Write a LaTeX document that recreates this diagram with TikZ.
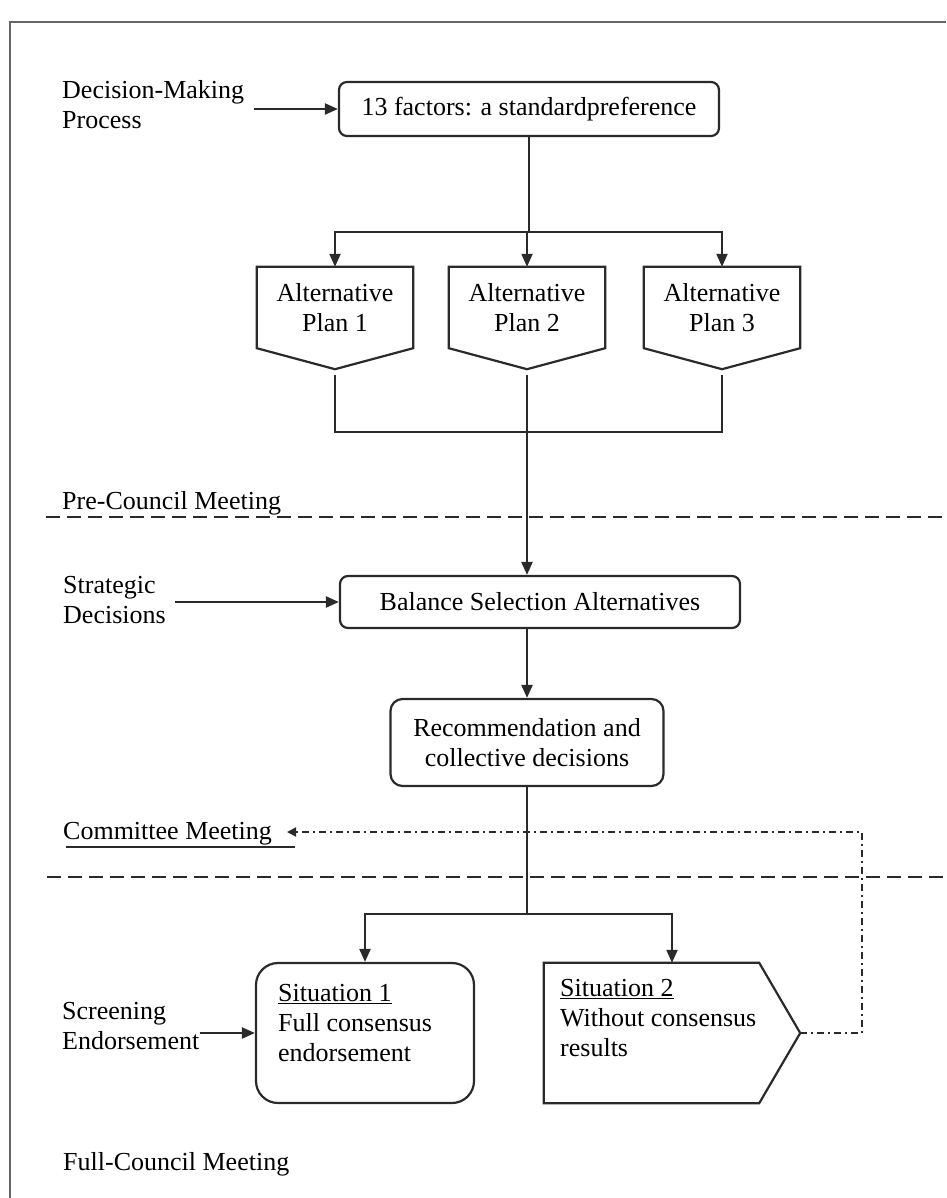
\documentclass[tikz,border=0pt]{standalone}
\usepackage{fontspec}
\setmainfont{Liberation Serif}
\usetikzlibrary{arrows.meta}
\definecolor{ln}{HTML}{2A2A2A}
\begin{document}
\begin{tikzpicture}[x=1pt,y=-1pt,
  every node/.style={font=\fontsize{26}{30}\selectfont, text=black},
  lbl/.style={inner sep=0pt, align=left},
  rbox/.style={draw=ln, line width=2.2pt, rounded corners=8pt, inner sep=0pt, align=center},
  planbox/.style={inner sep=0pt, minimum width=156pt, minimum height=81pt, align=center},
  shapeline/.style={draw=ln, line width=2.2pt, line join=miter},
  conn/.style={draw=ln, line width=2.2pt},
  arr/.style={conn, -{Triangle[length=13pt,width=11pt]}},
  dsh/.style={draw=ln, line width=2.5pt, dash pattern=on 14pt off 7pt},
  dd/.style={draw=ln, line width=1.8pt, dash pattern=on 7pt off 4pt on 2pt off 4pt},
  ddarr/.style={dd, -{Triangle[length=9pt,width=9pt]}},
  frame/.style={draw=gray!80!black, line width=2pt}
]
\useasboundingbox (0,0) rectangle (946,1198);

% frame
\coordinate (fa) at (10,1198);
\coordinate (fb) at (10,22);
\coordinate (fc) at (946,22);
\draw[frame] (fa) -- (fb) -- (fc);

% top part
\node[lbl, anchor=west] (dm) at (62,105) {Decision-Making\\Process};
\node[rbox, minimum width=380pt, minimum height=54pt] (f13) at (529,109) {13 factors: a standardpreference};
\draw[arr] ([xshift=10pt]dm.east |- f13.west) -- (f13.west);

\node[planbox] (p1) at (335,307.5) {Alternative\\Plan 1};
\node[planbox] (p2) at (527,307.5) {Alternative\\Plan 2};
\node[planbox] (p3) at (722,307.5) {Alternative\\Plan 3};
\foreach \p in {p1,p2,p3}{
  \draw[shapeline] (\p.north west) -- (\p.north east) -- (\p.south east)
    -- ([yshift=-21pt]\p.south) -- (\p.south west) -- cycle;
}

\coordinate (j1) at (527,232);
\draw[conn] (f13.south) -- (f13.south |- j1);
\draw[arr] (j1) -| (p1.north);
\draw[arr] (j1) -- (p2.north);
\draw[arr] (j1) -| (p3.north);

\coordinate (j2) at (527,432);
\draw[conn] ([yshift=-27pt]p1.south) -- (p1.south |- j2) -- (p3.south |- j2) -- ([yshift=-27pt]p3.south);

% pre-council
\node[lbl, anchor=base west] (pcm) at (62,509) {Pre-Council Meeting};
\coordinate (d1a) at (46,517);
\coordinate (d1b) at (946,517);
\draw[dsh] (d1a) -- (d1b);

\node[lbl, anchor=west] (sd) at (63,600) {Strategic\\Decisions};
\node[rbox, minimum width=400pt, minimum height=52pt] (bal) at (540,602) {Balance Selection Alternatives};
\draw[arr] ([yshift=-27pt]p2.south) -- (p2.south |- bal.north);
\draw[arr] ([xshift=9pt]sd.east |- bal.west) -- (bal.west);

\node[rbox, rounded corners=12pt, minimum width=273pt, minimum height=87pt] (rec) at (527,742.5) {Recommendation and\\collective decisions};
\draw[arr] (bal.south -| rec.north) -- (rec.north);

% committee
\node[lbl, anchor=base west] (cm) at (63,839) {Committee Meeting};
\coordinate (ula) at (66,847);
\coordinate (ulb) at (295,847);
\draw[conn, line width=1.8pt] (ula) -- (ulb);
\coordinate (d2a) at (47,877);
\coordinate (d2b) at (946,877);
\draw[dsh] (d2a) -- (d2b);

% situations
\node[draw=ln, line width=2.2pt, rounded corners=22pt, minimum width=218pt, minimum height=140pt, inner sep=0pt] (s1) at (365,1033) {};
\node[lbl, anchor=north west] (s1t) at (278,984) {\underline{Situation 1}\\Full consensus\\endorsement};

\node[inner sep=0pt, minimum width=215pt, minimum height=140pt] (s2) at (651.5,1033) {};
\coordinate (s2tip) at ([xshift=41pt]s2.east);
\draw[shapeline] (s2.north west) -- (s2.north east) -- (s2tip) -- (s2.south east) -- (s2.south west) -- cycle;
\node[lbl, anchor=north west] (s2t) at (560,979) {\underline{Situation 2}\\Without consensus\\results};

\coordinate (j3) at (527,914);
\draw[conn] (rec.south) -- (j3);
\draw[arr] (j3) -| (s1.north);
\draw[arr] (j3) -| ([xshift=20.5pt]s2.north);

\node[lbl, anchor=west] (scr) at (62,1026) {Screening\\Endorsement};
\draw[arr] (scr.east |- s1.west) -- (s1.west);

% feedback dash-dot
\coordinate (cc) at (862,832);
\coordinate (cmtip) at (287,832);
\draw[ddarr] (s2tip) -| (cc) -- (cmtip);

\node[lbl, anchor=base west] (fcm) at (63,1170) {Full-Council Meeting};
\end{tikzpicture}
\end{document}
